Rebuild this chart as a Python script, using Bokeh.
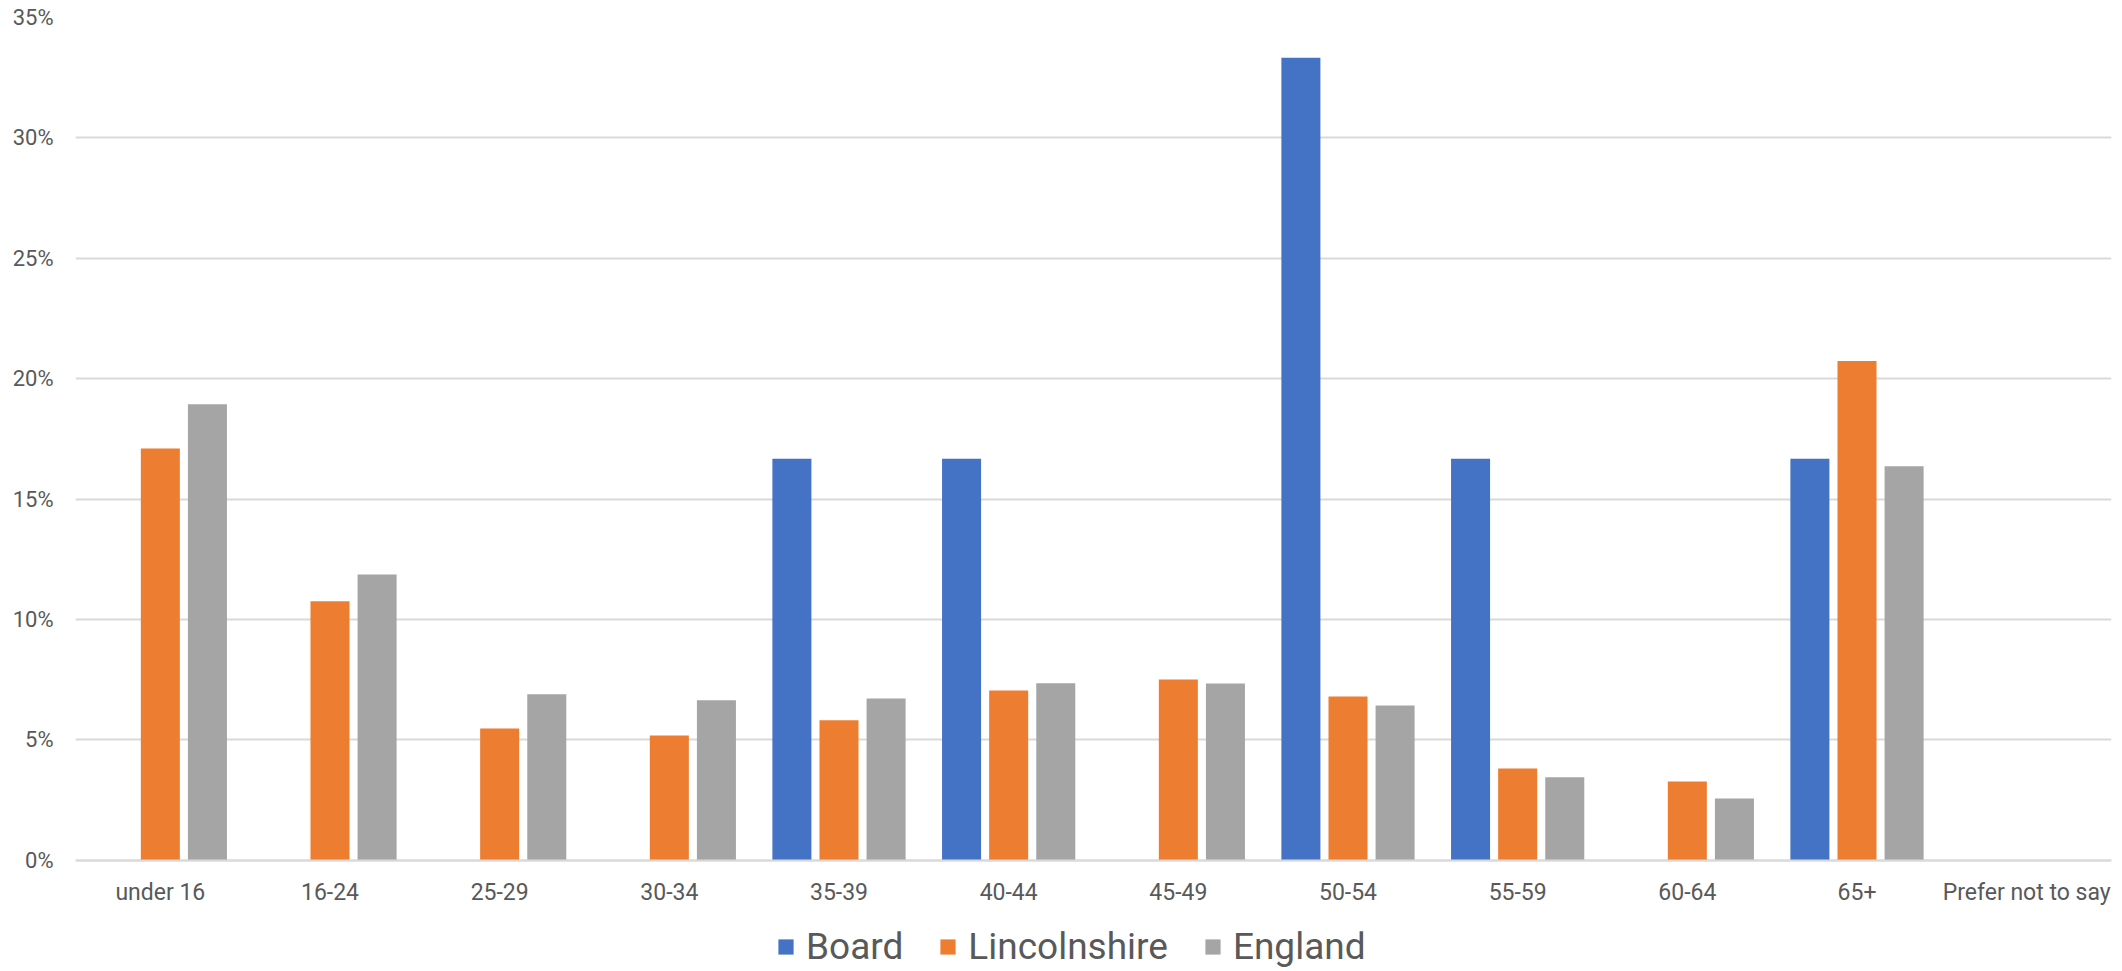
from bokeh.plotting import figure
from bokeh.models import (ColumnDataSource, FactorRange, FixedTicker, PrintfTickFormatter,
                          Legend, LegendItem)
from bokeh.transform import dodge
from bokeh.embed import file_html
from bokeh.resources import INLINE

categories = ["under 16", "16-24", "25-29", "30-34", "35-39", "40-44", "45-49",
              "50-54", "55-59", "60-64", "65+", "Prefer not to say"]
board = [0, 0, 0, 0, 16.67, 16.67, 0, 33.33, 16.67, 0, 16.67, 0]
lincolnshire = [17.1, 10.75, 5.47, 5.18, 5.81, 7.05, 7.51, 6.80, 3.81, 3.27, 20.73, 0]
england = [18.94, 11.87, 6.89, 6.64, 6.72, 7.35, 7.34, 6.43, 3.44, 2.56, 16.36, 0]
y_ticks = [0, 5, 10, 15, 20, 25, 30, 35]

source = ColumnDataSource(data=dict(cat=categories, board=board,
                                    lincolnshire=lincolnshire, england=england))

FRAME_H = 951
PX_PER_UNIT = 24.077
y_low = -(FRAME_H / PX_PER_UNIT - 35)

p = figure(x_range=FactorRange(*categories, range_padding=0), y_range=(y_low, 35),
           frame_width=2036, frame_height=FRAME_H, output_backend="svg", toolbar_location=None,
           min_border_left=75, min_border_right=8, min_border_top=17, min_border_bottom=0)
p.outline_line_color = None
p.background_fill_color = "white"

bw = 0.23
off = 0.2776
r_b = p.vbar(x=dodge("cat", -off, range=p.x_range), top="board", width=bw, source=source,
             fill_color="#4472C4", line_color=None)
r_l = p.vbar(x=dodge("cat", 0, range=p.x_range), top="lincolnshire", width=bw, source=source,
             fill_color="#ED7D31", line_color=None)
r_e = p.vbar(x=dodge("cat", off, range=p.x_range), top="england", width=bw, source=source,
             fill_color="#A5A5A5", line_color=None)

# grid
p.xgrid.grid_line_color = None
p.ygrid.grid_line_color = "#D9D9D9"
p.ygrid.grid_line_width = 2
p.ygrid.ticker = FixedTicker(ticks=y_ticks)

# y axis
p.yaxis.ticker = FixedTicker(ticks=y_ticks)
p.yaxis.formatter = PrintfTickFormatter(format="%d%%")
p.yaxis.axis_line_color = None
p.yaxis.major_tick_line_color = None
p.yaxis.minor_tick_line_color = None
p.yaxis.major_tick_out = 0
p.yaxis.major_label_standoff = 22
p.yaxis.major_label_text_font = "Roboto"
p.yaxis.major_label_text_font_size = "22px"
p.yaxis.major_label_text_color = "#595959"

# x axis, drawn at the 0% line
p.xaxis.fixed_location = 0
p.xaxis.axis_line_color = "#D9D9D9"
p.xaxis.axis_line_width = 2
p.xaxis.major_tick_line_color = None
p.xaxis.minor_tick_line_color = None
p.xaxis.major_tick_out = 0
p.xaxis.major_label_standoff = 19
p.xaxis.major_label_text_font = "Roboto"
p.xaxis.major_label_text_font_size = "23px"
p.xaxis.major_label_text_color = "#595959"

legend = Legend(items=[LegendItem(label="Board", renderers=[r_b]),
                       LegendItem(label="Lincolnshire", renderers=[r_l]),
                       LegendItem(label="England", renderers=[r_e])],
                orientation="horizontal", location=(701, 0))
legend.border_line_color = None
legend.background_fill_alpha = 0
legend.padding = 0
legend.margin = 0
legend.spacing = 35
legend.glyph_width = 19
legend.glyph_height = 19
legend.label_standoff = 11
legend.label_text_font = "Roboto"
legend.label_text_font_size = "37px"
legend.label_text_color = "#595959"
p.add_layout(legend, "center")

open("out.html", "w").write(file_html(p, INLINE))
